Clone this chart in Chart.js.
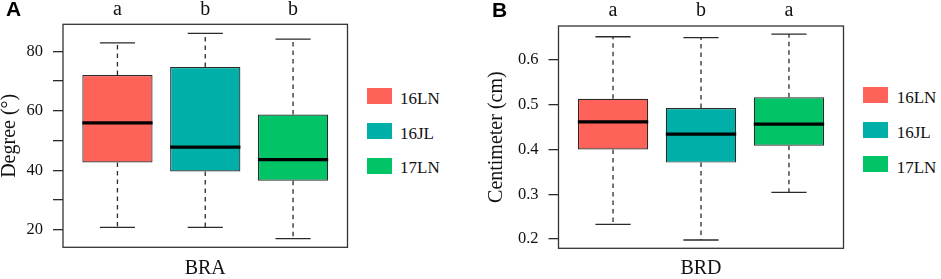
<!DOCTYPE html>
<html>
<head>
<meta charset="utf-8">
<script src="https://cdn.jsdelivr.net/npm/chart.js@4/dist/chart.umd.min.js"></script>
<style>
  html, body { margin: 0; padding: 0; background: #fff; overflow: hidden; }
  #wrap { position: relative; width: 941px; height: 279px; overflow: hidden; background: #fff; }
  canvas { position: absolute; top: 0; }
  .panel { position: absolute; font-family: 'Liberation Sans', Arial, sans-serif; font-weight: bold; font-size: 21px; line-height: 21px; color: #000; }
  .sw { position: absolute; width: 25px; height: 16px; }
  .lt { position: absolute; font-family: 'Liberation Serif', serif; font-size: 17px; line-height: 17px; color: #111; white-space: nowrap; }
</style>
</head>
<body>
<div id="wrap">
  <canvas id="cA" width="352" height="279" style="left:0px"></canvas>
  <canvas id="cB" width="378" height="279" style="left:470px"></canvas>
  <div class="panel" style="left:6px; top:-2px;">A</div>
  <div class="panel" style="left:492px; top:-1.5px;">B</div>
  <div id="legA"></div>
  <div id="legB"></div>
</div>
<script>
// ---------- data ----------
const groups = ['16LN', '16JL', '17LN'];
const groupColors = ['#FF6259', '#00B0A8', '#00C465'];

// Panel A: BRA (Degree)
const braMin = [20.8, 20.8, 17.0];
const braQ1  = [42.6, 39.6, 36.5];
const braMed = [55.9, 47.8, 43.6];
const braQ3  = [72.0, 74.7, 58.7];
const braMax = [82.8, 86.0, 84.1];
const braLetters = ['a', 'b', 'b'];
const braTicks = [20, 30, 40, 50, 60, 70, 80];
const braTickLabels = ['20', '', '40', '', '60', '', '80'];

// Panel B: BRD (Centimeter)
const brdMin = [0.233, 0.198, 0.304];
const brdQ1  = [0.400, 0.3705, 0.408];
const brdMed = [0.4615, 0.434, 0.4563];
const brdQ3  = [0.5128, 0.492, 0.5163];
const brdMax = [0.651, 0.649, 0.657];
const brdLetters = ['a', 'b', 'a'];
const brdTicks = [0.2, 0.3, 0.4, 0.5, 0.6];
const brdTickLabels = ['0.2', '0.3', '0.4', '0.5', '0.6'];

// ---------- helpers ----------
const SERIF = "'Liberation Serif', serif";
const INK = '#2a2a2a';

const boxPlugin = {
  id: 'boxParts',
  afterDatasetsDraw(chart) {
    const st = chart.options.plugins.boxParts;
    const xs = chart.scales.x, ys = chart.scales.y;
    const meta = chart.getDatasetMeta(0);
    const ctx = chart.ctx;
    ctx.save();
    st.med.forEach((m, i) => {
      const cx = xs.getPixelForValue(i + 1);
      const w = meta.data[i].width;
      const pMin = ys.getPixelForValue(st.min[i]);
      const pMax = ys.getPixelForValue(st.max[i]);
      const pQ1 = ys.getPixelForValue(st.q1[i]);
      const pQ3 = ys.getPixelForValue(st.q3[i]);
      const pMed = ys.getPixelForValue(m);
      // dashed whiskers
      ctx.strokeStyle = INK; ctx.lineWidth = 1.3; ctx.setLineDash([4.5, 4]);
      ctx.beginPath();
      ctx.moveTo(cx, pQ3); ctx.lineTo(cx, pMax);
      ctx.moveTo(cx, pQ1); ctx.lineTo(cx, pMin);
      ctx.stroke();
      // caps
      ctx.setLineDash([]);
      ctx.beginPath();
      ctx.moveTo(cx - w / 4, pMax); ctx.lineTo(cx + w / 4, pMax);
      ctx.moveTo(cx - w / 4, pMin); ctx.lineTo(cx + w / 4, pMin);
      ctx.stroke();
      // median
      ctx.strokeStyle = '#000'; ctx.lineWidth = 3.2;
      ctx.beginPath();
      ctx.moveTo(cx - w / 2, pMed); ctx.lineTo(cx + w / 2, pMed);
      ctx.stroke();
    });
    ctx.restore();
  },
  afterDraw(chart) {
    const a = chart.chartArea, ctx = chart.ctx;
    ctx.save(); ctx.strokeStyle = '#333'; ctx.lineWidth = 1.3;
    ctx.strokeRect(a.left, a.top, a.right - a.left, a.bottom - a.top);
    ctx.restore();
  }
};

function makeChart(id, cfg) {
  const data = cfg.q1.map((q, i) => ({ x: i + 1, y: [q, cfg.q3[i]] }));
  const catTicks = s => { s.ticks = cfg.letters.map((l, i) => ({ value: i + 1 })); };
  return new Chart(document.getElementById(id), {
    type: 'bar',
    data: { datasets: [{ data, backgroundColor: groupColors, borderColor: INK, borderWidth: 1.2, borderSkipped: false,
        categoryPercentage: 1, barPercentage: 0.8, xAxisID: 'x', yAxisID: 'y' }] },
    options: {
      responsive: false, animation: false, events: [],
      layout: { padding: { left: 0, right: cfg.padRight, top: 0, bottom: 0 } },
      plugins: { legend: { display: false }, tooltip: { enabled: false },
        boxParts: { min: cfg.min, q1: cfg.q1, med: cfg.med, q3: cfg.q3, max: cfg.max } },
      scales: {
        x: { type: 'linear', position: 'bottom', min: 0.38, max: 3.62, offset: false,
          grid: { display: false, drawTicks: false }, border: { display: false }, ticks: { display: false },
          afterBuildTicks: catTicks,
          title: { display: true, text: cfg.xTitle, color: '#111', font: { family: SERIF, size: 20, lineHeight: 1 }, padding: { top: 0, bottom: 0 } },
          afterFit: s => { s.height = cfg.bottomH; } },
        xTop: { type: 'linear', position: 'top', min: 0.38, max: 3.62, offset: false,
          grid: { display: false, drawTicks: false }, border: { display: false },
          afterBuildTicks: catTicks,
          ticks: { color: '#111', padding: cfg.letterPad, maxRotation: 0, autoSkip: false, font: { family: SERIF, size: 20 },
            callback: (v) => cfg.letters[Math.round(v) - 1] },
          afterFit: s => { s.height = cfg.topH; } },
        y: { type: 'linear', position: 'left', min: cfg.yMin, max: cfg.yMax, border: { display: false },
          grid: { display: true, drawOnChartArea: false, drawTicks: true, tickLength: 10, color: INK, lineWidth: 1.3 },
          afterBuildTicks: s => { s.ticks = cfg.ticks.map(v => ({ value: v })); },
          ticks: { color: '#111', padding: 10, autoSkip: false, font: { family: SERIF, size: 16.5 },
            callback: (v) => { const k = cfg.ticks.findIndex(t => Math.abs(t - v) < 1e-9); return k >= 0 ? cfg.tickLabels[k] : ''; } },
          title: { display: true, text: cfg.yTitle, color: '#111', font: { family: SERIF, size: 20, lineHeight: 1 }, padding: { top: cfg.yTitlePad, bottom: 0 } },
          afterFit: s => { s.width = cfg.leftW; } }
      }
    },
    plugins: [boxPlugin]
  });
}

makeChart('cA', { min: braMin, q1: braQ1, med: braMed, q3: braQ3, max: braMax, letters: braLetters, ticks: braTicks, tickLabels: braTickLabels,
  yMin: 14.1, yMax: 89.05, xTitle: 'BRA', yTitle: 'Degree (°)', leftW: 63, topH: 24.3, bottomH: 31.7, padRight: 4.5, letterPad: 3, yTitlePad: 0 });
makeChart('cB', { min: brdMin, q1: brdQ1, med: brdMed, q3: brdQ3, max: brdMax, letters: brdLetters, ticks: brdTicks, tickLabels: brdTickLabels,
  yMin: 0.1795, yMax: 0.675, xTitle: 'BRD', yTitle: 'Centimeter (cm)', leftW: 88.5, topH: 26, bottomH: 30.7, padRight: 4.5, letterPad: 3, yTitlePad: 16.3 });

// ---------- legends (HTML text) ----------
function makeLegend(elId, swLeft, swTops, txtLeft, txtTops) {
  const el = document.getElementById(elId);
  groups.forEach((g, i) => {
    const s = document.createElement('div'); s.className = 'sw';
    s.style.left = swLeft + 'px'; s.style.top = swTops[i] + 'px'; s.style.background = groupColors[i];
    el.appendChild(s);
    const t = document.createElement('div'); t.className = 'lt';
    t.style.left = txtLeft + 'px'; t.style.top = txtTops[i] + 'px'; t.textContent = g;
    el.appendChild(t);
  });
}
makeLegend('legA', 366.7, [88.3, 123.3, 157.5], 400, [89.8, 124.8, 159.3]);
makeLegend('legB', 863.3, [86.7, 121.7, 156.3], 896.7, [89.1, 123.5, 158.5]);
</script>
</body>
</html>
